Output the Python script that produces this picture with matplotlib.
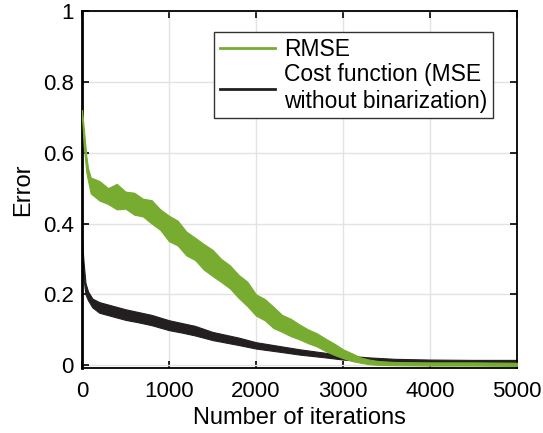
import numpy as np
import matplotlib.pyplot as plt
from matplotlib.lines import Line2D

plt.rcParams['font.family'] = ['Liberation Sans', 'DejaVu Sans']

# RMSE band (iteration, lower edge, upper edge)
rmse_it = [0, 20, 50, 70, 100, 200, 300, 400, 500, 600, 700, 800, 900, 1000, 1100, 1200,
           1300, 1400, 1500, 1600, 1700, 1800, 1900, 2000, 2100, 2200, 2300, 2400, 2500,
           2600, 2700, 2800, 2900, 3000, 3100, 3200, 3300, 3400, 3600, 4000, 4500, 5000]
rmse_lo = [0.700, 0.620, 0.545, 0.520, 0.485, 0.465, 0.455, 0.440, 0.442, 0.425, 0.420,
           0.400, 0.382, 0.350, 0.338, 0.310, 0.297, 0.270, 0.252, 0.235, 0.217, 0.190,
           0.167, 0.140, 0.127, 0.105, 0.094, 0.082, 0.073, 0.062, 0.053, 0.040, 0.029,
           0.020, 0.012, 0.007, 0.003, 0.001, 0.000, -0.001, -0.001, -0.002]
rmse_hi = [0.720, 0.670, 0.590, 0.555, 0.530, 0.520, 0.500, 0.512, 0.490, 0.487, 0.470,
           0.466, 0.440, 0.422, 0.408, 0.377, 0.360, 0.342, 0.326, 0.300, 0.282, 0.255,
           0.236, 0.200, 0.187, 0.165, 0.142, 0.131, 0.115, 0.101, 0.090, 0.075, 0.061,
           0.045, 0.034, 0.022, 0.016, 0.012, 0.009, 0.008, 0.008, 0.007]

# cost function band (MSE without binarization)
cost_it = [0, 15, 40, 70, 120, 200, 350, 500, 650, 800, 1000, 1150, 1300, 1500, 1650,
           1800, 2000, 2150, 2300, 2500, 2650, 2800, 3000, 3300, 3600, 4000, 4500, 5000]
cost_lo = [0.300, 0.250, 0.200, 0.183, 0.163, 0.148, 0.138, 0.128, 0.121, 0.113,
           0.099, 0.092, 0.084, 0.071, 0.064, 0.057, 0.047, 0.042, 0.037, 0.030, 0.026,
           0.022, 0.016, 0.011, 0.008, 0.007, 0.007, 0.007]
cost_hi = [0.360, 0.300, 0.232, 0.208, 0.188, 0.178, 0.168, 0.158, 0.150, 0.142,
           0.127, 0.119, 0.111, 0.094, 0.086, 0.078, 0.065, 0.059, 0.053, 0.045, 0.040,
           0.035, 0.028, 0.022, 0.018, 0.016, 0.015, 0.015]

green = '#77ac30'
black = '#231f20'

fig = plt.figure(figsize=(5.43, 4.33), dpi=100)
ax = fig.add_axes([0.151, 0.150, 0.801, 0.8246])

ax.fill_between(cost_it, cost_lo, cost_hi, color=black, lw=0.8, edgecolor=black, zorder=2)
ax.fill_between(rmse_it, rmse_lo, rmse_hi, color=green, lw=0.8, edgecolor=green, zorder=3)

ax.set_xlim(0, 5000)
ax.set_ylim(-0.008, 1)
ax.set_xticks([0, 1000, 2000, 3000, 4000, 5000])
ax.set_yticks([0, 0.2, 0.4, 0.6, 0.8, 1])
ax.set_yticklabels(['0', '0.2', '0.4', '0.6', '0.8', '1'])
ax.grid(True, color='#e3e3e3', lw=1)
ax.set_axisbelow(True)
ax.tick_params(direction='in', top=True, right=True, length=5, width=1.2, labelsize=16)
ax.tick_params(axis='x', pad=9)
ax.tick_params(axis='y', pad=6)
for s in ax.spines.values():
    s.set_linewidth(1.3)
ax.spines['left'].set_linewidth(2)
ax.set_xlabel('Number of iterations', fontsize=17, labelpad=4)
ax.set_ylabel('Error', fontsize=17, labelpad=6)

handles = [Line2D([], [], color=green, lw=2),
           Line2D([], [], color=black, lw=2)]
leg = ax.legend(handles, ['RMSE', 'Cost function (MSE\nwithout binarization)'],
                loc='upper right', bbox_to_anchor=(0.945, 0.941), borderaxespad=0,
                fontsize=16.5, fancybox=False, framealpha=1, edgecolor='#333333',
                handlelength=2.4, borderpad=0.25, labelspacing=0.1, handletextpad=0.4)
leg.get_frame().set_linewidth(1)

fig.savefig('out.png', dpi=100)
